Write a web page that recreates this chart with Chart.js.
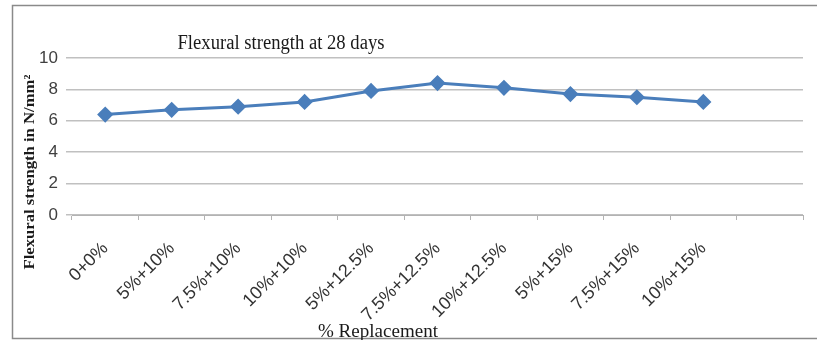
<!DOCTYPE html>
<html lang="en">
<head>
  <meta charset="UTF-8" />
  <title>Flexural strength at 28 days</title>
  <style>
    body {
      margin: 0;
      background: #ffffff;
    }
    canvas {
      display: block;
    }
  </style>
  <script src="https://cdn.jsdelivr.net/npm/chart.js"></script>
</head>
<body>
  <canvas id="flexChart" width="817" height="340"></canvas>

  <script>
    // data
    const mixes = ['0+0%', '5%+10%', '7.5%+10%', '10%+10%', '5%+12.5%', '7.5%+12.5%',
      '10%+12.5%', '5%+15%', '7.5%+15%', '10%+15%', ''];
    const strength28 = [6.4, 6.7, 6.9, 7.2, 7.9, 8.4, 8.1, 7.7, 7.5, 7.2];
    const yTicks = [0, 2, 4, 6, 8, 10];

    const chartTitle = 'Flexural strength at 28 days';
    const xTitle = '% Replacement';
    const yTitle = 'Flexural strength in N/mm²';

    // draw a string squeezed/stretched to a given width
    function fitText(c, text, x, y, width) {
      const w = c.measureText(text).width;
      c.save();
      c.translate(x, y);
      c.scale(width / w, 1);
      c.fillText(text, 0, 0);
      c.restore();
    }

    // frame + titles, drawn like the spreadsheet export
    const decor = {
      id: 'decor',
      afterDraw(chart) {
        const c = chart.ctx;
        c.save();
        c.strokeStyle = '#8a8a8a';
        c.lineWidth = 1.5;
        c.strokeRect(12.5, 5.5, 830, 333);

        c.fillStyle = '#1a1a1a';
        c.textAlign = 'center';
        c.textBaseline = 'middle';
        c.font = '20px "Liberation Serif"';
        fitText(c, chartTitle, 281, 44, 207);

        c.textBaseline = 'alphabetic';
        c.font = '19px "Liberation Serif"';
        fitText(c, xTitle, 378, 337, 120);

        c.textBaseline = 'middle';
        c.translate(30, 172);
        c.rotate(-Math.PI / 2);
        c.font = 'bold 15px "Liberation Serif"';
        fitText(c, yTitle, 0, 0, 195);
        c.restore();
      }
    };

    const ctx = document.getElementById('flexChart').getContext('2d');

    new Chart(ctx, {
      type: 'line',
      data: {
        labels: mixes,
        datasets: [{
          label: chartTitle,
          data: strength28,
          borderColor: '#4a7ebb',
          backgroundColor: '#4a7ebb',
          borderWidth: 3,
          pointStyle: 'rectRot',
          pointRadius: 6,
          pointHoverRadius: 6,
          tension: 0,
          fill: false
        }]
      },
      options: {
        responsive: false,
        animation: false,
        events: [],
        layout: {
          padding: { left: 0, right: 14, top: 58, bottom: 0 }
        },
        plugins: {
          legend: { display: false },
          tooltip: { enabled: false },
          title: { display: false }
        },
        scales: {
          x: {
            offset: true,
            afterFit(scale) { scale.height = 125; },
            grid: {
              offset: true,
              drawOnChartArea: false,
              drawTicks: true,
              tickLength: 5,
              color: '#b3b3b3'
            },
            border: { display: true, color: '#b3b3b3', width: 1 },
            ticks: {
              autoSkip: false,
              maxRotation: 45,
              minRotation: 45,
              padding: 18,
              color: '#333333',
              font: { family: '"Liberation Sans"', size: 18 }
            }
          },
          y: {
            min: 0,
            max: 10,
            afterFit(scale) { scale.width = 72; },
            afterBuildTicks(scale) {
              scale.ticks = yTicks.map(v => ({ value: v }));
            },
            grid: {
              color: '#c0c0c0',
              lineWidth: 1.5,
              drawTicks: true,
              tickLength: 6
            },
            border: { display: false },
            ticks: {
              padding: 8,
              color: '#404040',
              font: { family: '"Liberation Sans"', size: 17 }
            }
          }
        }
      },
      plugins: [decor]
    });
  </script>
</body>
</html>
